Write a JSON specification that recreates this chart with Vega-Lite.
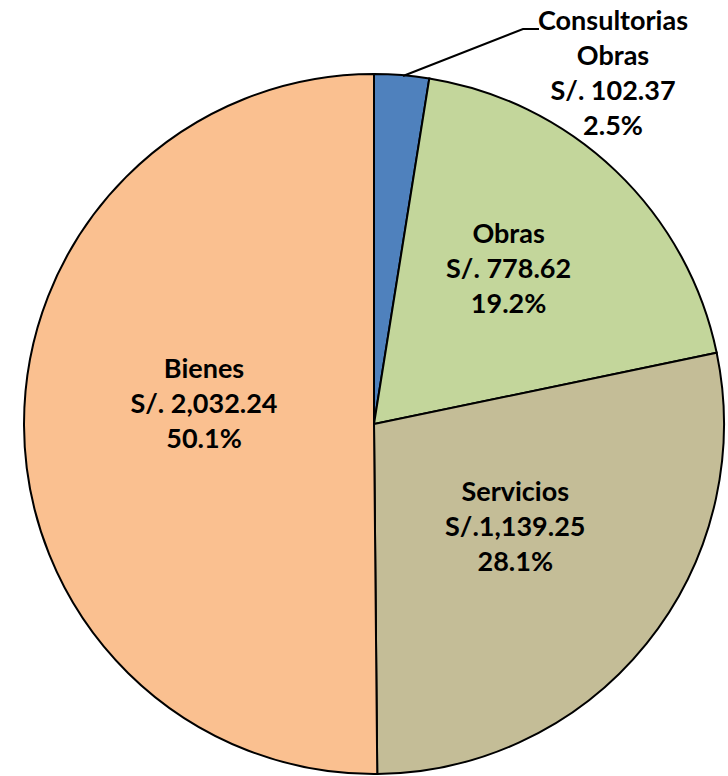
{
  "$schema": "https://vega.github.io/schema/vega-lite/v6.json",
  "width": 748,
  "height": 848,
  "autosize": {"type": "none"},
  "padding": 0,
  "background": "white",
  "config": {"view": {"stroke": null}, "text": {"font": "Lato", "fontWeight": "bold", "fontSize": 27, "lineHeight": 35, "lineBreak": "\n", "color": "black"}},
  "data": {
    "values": [
      {"name": "Consultorias\nObras", "key": "Consultorias Obras", "value": 102.37, "amount": "S/. 102.37", "seq": 1},
      {"name": "Obras", "key": "Obras", "value": 778.62, "amount": "S/. 778.62", "seq": 2},
      {"name": "Servicios", "key": "Servicios", "value": 1139.25, "amount": "S/.1,139.25", "seq": 3},
      {"name": "Bienes", "key": "Bienes", "value": 2032.24, "amount": "S/. 2,032.24", "seq": 4}
    ]
  },
  "transform": [
    {"joinaggregate": [{"op": "sum", "field": "value", "as": "total"}]},
    {"calculate": "datum.name + '\\n' + datum.amount + '\\n' + format(datum.value / datum.total, '.1%')", "as": "label"}
  ],
  "layer": [
    {
      "mark": {"type": "arc", "outerRadius": 350, "stroke": "black", "strokeWidth": 2},
      "encoding": {
        "theta": {"field": "value", "type": "quantitative", "stack": true},
        "order": {"field": "seq", "type": "quantitative"},
        "color": {"field": "key", "type": "nominal", "legend": null,
          "scale": {"domain": ["Consultorias Obras", "Obras", "Servicios", "Bienes"], "range": ["#4F81BD", "#C3D69B", "#C4BD97", "#FAC090"]}}
      }
    },
    {
      "mark": {"type": "text", "radius": 205, "dx": -7, "dy": -41, "baseline": "middle", "align": "center"},
      "encoding": {
        "theta": {"field": "value", "type": "quantitative", "stack": true},
        "order": {"field": "seq", "type": "quantitative"},
        "text": {"condition": {"test": "datum.key === 'Obras'", "field": "label"}, "value": ""}
      }
    },
    {
      "mark": {"type": "text", "radius": 175, "dx": 5, "dy": -41, "baseline": "middle", "align": "center"},
      "encoding": {
        "theta": {"field": "value", "type": "quantitative", "stack": true},
        "order": {"field": "seq", "type": "quantitative"},
        "text": {"condition": {"test": "datum.key === 'Servicios'", "field": "label"}, "value": ""}
      }
    },
    {
      "mark": {"type": "text", "radius": 170, "dx": 0, "dy": -55, "baseline": "middle", "align": "center"},
      "encoding": {
        "theta": {"field": "value", "type": "quantitative", "stack": true},
        "order": {"field": "seq", "type": "quantitative"},
        "text": {"condition": {"test": "datum.key === 'Bienes'", "field": "label"}, "value": ""}
      }
    },
    {
      "data": {"values": [
        {"px": 0.0829, "py": 0.9943, "pt": 1},
        {"px": 0.4257, "py": 1.1286, "pt": 2},
        {"px": 0.4714, "py": 1.1286, "pt": 3}
      ]},
      "mark": {"type": "line", "color": "black", "strokeWidth": 2},
      "encoding": {
        "x": {"field": "px", "type": "quantitative", "axis": null, "scale": {"domain": [-1.06857, 1.06857], "nice": false, "zero": false}},
        "y": {"field": "py", "type": "quantitative", "axis": null, "scale": {"domain": [-1.21143, 1.21143], "nice": false, "zero": false}},
        "order": {"field": "pt", "type": "quantitative"}
      }
    },
    {
      "transform": [{"filter": "datum.seq === 1"}, {"calculate": "0.6829", "as": "lx"}, {"calculate": "1.1486", "as": "ly"}],
      "mark": {"type": "text", "baseline": "middle", "align": "center"},
      "encoding": {
        "x": {"field": "lx", "type": "quantitative", "axis": null, "scale": {"domain": [-1.06857, 1.06857], "nice": false, "zero": false}},
        "y": {"field": "ly", "type": "quantitative", "axis": null, "scale": {"domain": [-1.21143, 1.21143], "nice": false, "zero": false}},
        "text": {"field": "label"}
      }
    }
  ]
}
